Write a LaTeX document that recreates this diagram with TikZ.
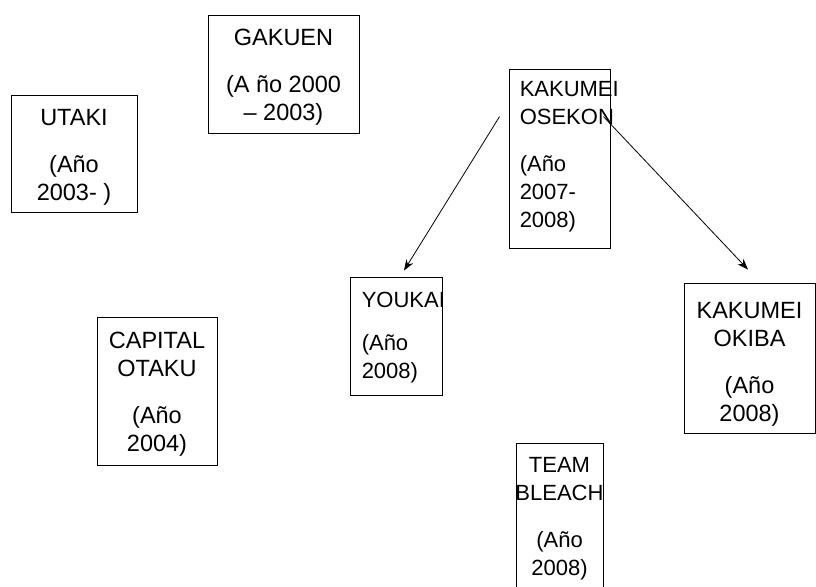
\documentclass[tikz,border=0pt]{standalone}
\usepackage{fontspec}
\setmainfont{Liberation Sans}
\usetikzlibrary{arrows.meta,calc}

\tikzset{
  frame/.style={draw=black, line width=0.9pt, rectangle, inner sep=0pt},
  txt/.style={inner sep=0pt, font=\fontsize{23.5}{28}\selectfont},
  small/.style={font=\fontsize{22}{28}\selectfont},
  ctxt/.style={txt, anchor=north, align=center},
  ltxt/.style={txt, small, anchor=north west, align=left},
  link/.style={draw=black, line width=0.8pt, -{Stealth[length=11pt,width=8pt]}}
}

\begin{document}
\begin{tikzpicture}[x=1pt, y=-1pt]
  \useasboundingbox (0,0) rectangle (816,586);

  % frames of the year boxes
  \node[frame, minimum width=151pt, minimum height=118pt] (gakuen)  at (283.5,74)   {};
  \node[frame, minimum width=126pt, minimum height=117pt] (utaki)   at (74,153.5)   {};
  \node[frame, minimum width=101pt, minimum height=179pt] (osekon)  at (559.5,158.5) {};
  \node[frame, minimum width=92pt,  minimum height=118pt] (youkai)  at (396,336)    {};
  \node[frame, minimum width=131pt, minimum height=150pt] (okiba)   at (749.5,358)  {};
  \node[frame, minimum width=120pt, minimum height=148pt] (capital) at (157,391)    {};
  \node[frame, minimum width=87pt,  minimum height=152pt] (bleach)  at (559.5,519)  {};

  % their texts
  \node[ctxt] (gakuen-t)  at ($(gakuen.north)+(0,14)$)  {GAKUEN\\[19pt](A ño 2000\\– 2003)};
  \node[ctxt] (utaki-t)   at ($(utaki.north)+(0,14.5)$) {UTAKI\\[19pt](Año\\2003- )};
  \node[ltxt] (osekon-t)  at ($(osekon.north west)+(11,13)$) {KAKUMEI\\OSEKON\\[19pt](Año\\2007-\\2008)};
  \node[ltxt] (youkai-t)  at ($(youkai.north west)+(12,15)$) {YOUKAI\\[15pt](Año\\2008)};
  \node[ctxt] (okiba-t)   at ($(okiba.north)+(0,19.5)$) {KAKUMEI\\OKIBA\\[19pt](Año\\2008)};
  \node[ctxt] (capital-t) at ($(capital.north)+(0,15)$) {CAPITAL\\OTAKU\\[19pt](Año\\2004)};
  \node[ctxt, small] (bleach-t) at ($(bleach.north)+(0,14.5)$) {TEAM\\BLEACH\\[19pt](Año\\2008)};

  % connector ends
  \coordinate (leftstart)  at ($(osekon.north west)+(-9,48)$);
  \coordinate (leftend)    at ($(youkai.north)+(8,-6)$);
  \coordinate (rightstart) at ($(osekon.north east)+(-7,48)$);
  \coordinate (rightend)   at ($(okiba.north)+(-1.5,-13)$);

  \draw[link] (leftstart) -- (leftend);
  \draw[link] (rightstart) -- (rightend);
\end{tikzpicture}
\end{document}
